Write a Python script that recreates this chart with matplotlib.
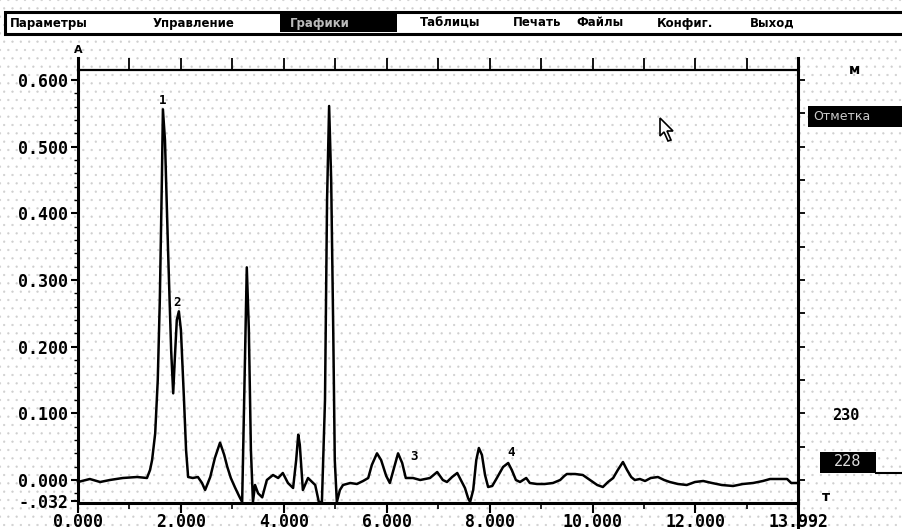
# -*- coding: utf-8 -*-
import numpy as np
import matplotlib.pyplot as plt
from matplotlib.patches import Rectangle, Polygon
from matplotlib.ticker import MultipleLocator, FixedLocator

# chromatogram: retention time (min) and absorbance
rt = [0.00, 0.23, 0.43, 0.62, 0.87, 1.15, 1.34, 1.40, 1.44, 1.50, 1.55, 1.59, 1.63, 1.65,
      1.69, 1.75, 1.81, 1.85, 1.88, 1.92, 1.96, 2.00, 2.06, 2.10, 2.14, 2.23, 2.33, 2.41,
      2.47, 2.57, 2.66, 2.76, 2.84, 2.90, 2.97, 3.05, 3.13, 3.19, 3.23, 3.28, 3.32, 3.36,
      3.40, 3.44, 3.50, 3.58, 3.67, 3.79, 3.89, 3.98, 4.08, 4.18, 4.24, 4.28, 4.31, 4.37,
      4.47, 4.55, 4.61, 4.68, 4.74, 4.80, 4.84, 4.88, 4.92, 4.96, 4.99, 5.03, 5.09, 5.15,
      5.29, 5.42, 5.54, 5.64, 5.71, 5.81, 5.89, 5.99, 6.06, 6.14, 6.22, 6.30, 6.37, 6.51,
      6.65, 6.84, 6.98, 7.09, 7.17, 7.27, 7.37, 7.44, 7.52, 7.58, 7.62, 7.68, 7.74, 7.79,
      7.85, 7.91, 7.97, 8.05, 8.14, 8.26, 8.36, 8.43, 8.51, 8.59, 8.71, 8.78, 8.92, 9.07,
      9.23, 9.37, 9.45, 9.50, 9.66, 9.81, 9.95, 10.09, 10.20, 10.30, 10.40, 10.49, 10.59,
      10.67, 10.75, 10.82, 10.92, 11.02, 11.13, 11.27, 11.39, 11.50, 11.66, 11.83, 11.99,
      12.15, 12.32, 12.51, 12.73, 12.92, 13.12, 13.31, 13.45, 13.64, 13.78, 13.86, 13.99]
absb = [-0.003, 0.0015, -0.003, 0.000, 0.003, 0.0045, 0.003, 0.015, 0.030, 0.070, 0.150,
        0.270, 0.450, 0.556, 0.510, 0.345, 0.195, 0.130, 0.180, 0.240, 0.253, 0.225, 0.120,
        0.045, 0.0045, 0.003, 0.0045, -0.0045, -0.015, 0.0045, 0.033, 0.056, 0.038, 0.020,
        0.003, -0.011, -0.024, -0.033, 0.120, 0.319, 0.226, 0.045, -0.033, -0.0075, -0.020,
        -0.026, 0.000, 0.0075, 0.003, 0.0105, -0.0045, -0.012, 0.030, 0.068, 0.053, -0.015,
        0.003, -0.003, -0.0075, -0.033, -0.033, 0.120, 0.420, 0.561, 0.450, 0.225, 0.030,
        -0.033, -0.015, -0.0075, -0.0045, -0.006, -0.0015, 0.003, 0.0225, 0.040, 0.030,
        0.006, -0.0045, 0.018, 0.040, 0.0255, 0.003, 0.003, 0.000, 0.003, 0.012, 0.000,
        -0.003, 0.0045, 0.0105, 0.000, -0.012, -0.027, -0.033, -0.015, 0.030, 0.048, 0.0375,
        0.0075, -0.0105, -0.009, 0.003, 0.0195, 0.0255, 0.015, 0.000, -0.003, 0.003, -0.0045,
        -0.006, -0.006, -0.0045, 0.000, 0.006, 0.009, 0.009, 0.0075, 0.000, -0.0075, -0.0105,
        -0.003, 0.003, 0.015, 0.027, 0.015, 0.0045, 0.000, 0.0015, -0.0015, 0.003, 0.0045,
        0.000, -0.003, -0.006, -0.0075, -0.003, -0.0015, -0.0045, -0.0075, -0.009, -0.006,
        -0.0045, -0.0015, 0.0015, 0.0015, 0.0015, -0.0045, -0.0045]

peak_ids = ['1', '2', '3', '4']
peak_rt = [1.65, 1.93, 6.52, 8.42]
peak_lab_y = [0.570, 0.266, 0.035, 0.041]

y_ticks = [-0.032, 0.0, 0.1, 0.2, 0.3, 0.4, 0.5, 0.6]
y_labels = ['-.032', '0.000', '0.100', '0.200', '0.300', '0.400', '0.500', '0.600']
x_ticks = [0, 2, 4, 6, 8, 10, 12, 13.992]
x_labels = ['0.000', '2.000', '4.000', '6.000', '8.000', '10.000', '12.000', '13.992']

menu_items = ['Параметры', 'Управление', 'Графики', 'Таблицы', 'Печать', 'Файлы',
              'Конфиг.', 'Выход']
menu_px = [10, 153, 290, 420, 513, 576, 657, 750]
menu_active = 2

W, H = 903, 529


def fx(px):
    return px / W


def fy(py):
    return 1 - py / H


fig = plt.figure(figsize=(W / 100, H / 100), dpi=100)
fig.patch.set_facecolor('white')

# stippled screen background
plt.rcParams['hatch.linewidth'] = 0.4
fig.patches.append(Rectangle((0, 0), 1, 1, transform=fig.transFigure, facecolor='white',
                             edgecolor='#cfcfcf', hatch='..', linewidth=0, zorder=-5))

ax = fig.add_axes([fx(78), fy(503), fx(798) - fx(78), fy(70) - fy(503)])
ax.set_facecolor('none')
ax.plot(rt, absb, color='black', linewidth=1.8, clip_on=False)
ax.set_xlim(0, 13.992)
ax.set_ylim(-0.0345, 0.615)

mono = dict(family='DejaVu Sans Mono', fontweight='bold', fontsize=12)
ax.set_yticks(y_ticks)
ax.set_yticklabels(y_labels, **mono)
ax.yaxis.set_minor_locator(MultipleLocator(0.02))
ax.set_xticks(x_ticks)
ax.set_xticklabels(x_labels, **mono)
ax.xaxis.set_minor_locator(FixedLocator(np.arange(1, 14, 2)))
ax.tick_params(axis='y', which='major', length=5, width=1.5, pad=2)
ax.tick_params(axis='y', which='minor', length=3, width=1)
ax.tick_params(axis='x', which='major', length=7, width=1.5, pad=0)
ax.tick_params(axis='x', which='minor', length=4, width=1.2)

for s in ['left', 'right', 'bottom']:
    ax.spines[s].set_linewidth(2.2)
ax.spines['top'].set_linewidth(1.6)

# axis extensions
ax.plot([0, 0], [1, 1.028], transform=ax.transAxes, color='black', lw=2.2, clip_on=False)
ax.plot([1, 1], [1, 1.028], transform=ax.transAxes, color='black', lw=2.2, clip_on=False)
ax.plot([1, 1], [0, -0.06], transform=ax.transAxes, color='black', lw=2.2, clip_on=False)

# top ticks every minute
axt = ax.twiny()
axt.set_xlim(ax.get_xlim())
axt.set_xticks(np.arange(1, 14, 1))
axt.tick_params(axis='x', length=9, width=1.3, labeltop=False)
for s in axt.spines.values():
    s.set_visible(False)

# right ticks
axr = ax.twinx()
axr.set_ylim(ax.get_ylim())
axr.set_yticks(np.arange(0, 0.61, 0.05))
axr.tick_params(axis='y', length=5, width=1.3, labelright=False)
for s in axr.spines.values():
    s.set_visible(False)

for lab, x, y in zip(peak_ids, peak_rt, peak_lab_y):
    ax.text(x, y, lab, ha='center', va='center', fontsize=9, fontweight='bold',
            family='DejaVu Sans Mono')

fig.text(fx(78), fy(50), 'A', ha='center', va='center', fontsize=8, fontweight='bold')

# menu bar
fig.patches.append(Rectangle((fx(5), fy(34)), fx(910) - fx(5), fy(12) - fy(34),
                             transform=fig.transFigure, facecolor='white',
                             edgecolor='black', linewidth=2.2, zorder=2))
fig.patches.append(Rectangle((fx(280), fy(32)), fx(397) - fx(280), fy(14) - fy(32),
                             transform=fig.transFigure, facecolor='black',
                             edgecolor='black', linewidth=0, zorder=3))
for i, (item, px) in enumerate(zip(menu_items, menu_px)):
    fig.text(fx(px), fy(23), item, ha='left', va='center', fontsize=8.5,
             fontweight='bold', color='#bbbbbb' if i == menu_active else 'black', zorder=4)

# right panel
fig.text(fx(855), fy(70), 'м', ha='center', va='center', fontsize=10, fontweight='bold')
fig.patches.append(Rectangle((fx(808), fy(127)), fx(905) - fx(808), fy(106) - fy(127),
                             transform=fig.transFigure, facecolor='black', linewidth=0,
                             zorder=2))
fig.text(fx(813), fy(117), 'Отметка', ha='left', va='center', fontsize=9,
         color='#cccccc', zorder=3)
fig.text(fx(846), fy(416), '230', ha='center', va='center', fontsize=11, fontweight='bold',
         family='DejaVu Sans Mono')
fig.patches.append(Rectangle((fx(820), fy(473)), fx(876) - fx(820), fy(452) - fy(473),
                             transform=fig.transFigure, facecolor='black', linewidth=0,
                             zorder=2))
fig.text(fx(848), fy(462), '228', ha='center', va='center', fontsize=11,
         color='#dddddd', family='DejaVu Sans Mono', zorder=3)
fig.lines.append(plt.Line2D([fx(876), fx(903)], [fy(473), fy(473)],
                            transform=fig.transFigure, color='black', lw=1.5))
fig.text(fx(826), fy(497), 'т', ha='center', va='center', fontsize=10, fontweight='bold')

# mouse cursor
cur = [(660, 118), (660, 136), (664, 132), (668, 141), (671, 140), (667, 131), (673, 131)]
fig.patches.append(Polygon([(fx(a), fy(b)) for a, b in cur], closed=True,
                           transform=fig.transFigure, facecolor='white',
                           edgecolor='black', linewidth=1.2, zorder=5))

fig.savefig('out.png', dpi=100)
